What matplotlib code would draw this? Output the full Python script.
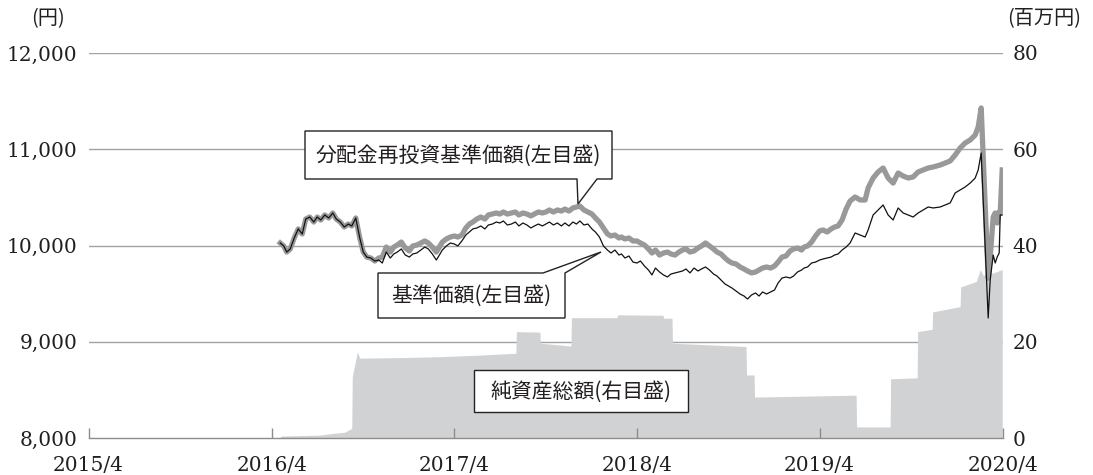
import matplotlib
matplotlib.use('Agg')
import matplotlib.pyplot as plt
import pandas as pd
from matplotlib.patches import Polygon

plt.rcParams['font.family'] = ['DejaVu Serif']

# ---------------- data ----------------
nav_dates = [
    '2016-04-18', '2016-04-25', '2016-05-01', '2016-05-08', '2016-05-16', '2016-05-24',
    '2016-06-01', '2016-06-08', '2016-06-16', '2016-06-24', '2016-07-01', '2016-07-08',
    '2016-07-16', '2016-07-24', '2016-08-01', '2016-08-08', '2016-08-16', '2016-08-24',
    '2016-09-01', '2016-09-08', '2016-09-16', '2016-09-24', '2016-10-01', '2016-10-08',
    '2016-10-16', '2016-10-24', '2016-11-01', '2016-11-08', '2016-11-16', '2016-11-24',
    '2016-12-01', '2016-12-08', '2016-12-16', '2016-12-24', '2017-01-01', '2017-01-08',
    '2017-01-16', '2017-01-24', '2017-02-01', '2017-02-08', '2017-02-16', '2017-02-24',
    '2017-03-01', '2017-03-08', '2017-03-16', '2017-03-24', '2017-04-01', '2017-04-08',
    '2017-04-16', '2017-04-24', '2017-05-01', '2017-05-08', '2017-05-16', '2017-05-24',
    '2017-06-01', '2017-06-08', '2017-06-16', '2017-06-24', '2017-07-01', '2017-07-08',
    '2017-07-16', '2017-07-24', '2017-08-01', '2017-08-08', '2017-08-16', '2017-08-24',
    '2017-09-01', '2017-09-08', '2017-09-16', '2017-09-24', '2017-10-01', '2017-10-08',
    '2017-10-16', '2017-10-24', '2017-11-01', '2017-11-08', '2017-11-16', '2017-11-24',
    '2017-12-01', '2017-12-08', '2017-12-16', '2017-12-24', '2018-01-01', '2018-01-08',
    '2018-01-16', '2018-01-24', '2018-02-01', '2018-02-08', '2018-02-16', '2018-02-24',
    '2018-03-01', '2018-03-08', '2018-03-16', '2018-03-24', '2018-04-01', '2018-04-08',
    '2018-04-16', '2018-04-24', '2018-05-01', '2018-05-08', '2018-05-16', '2018-05-24',
    '2018-06-01', '2018-06-08', '2018-06-16', '2018-06-24', '2018-07-01', '2018-07-08',
    '2018-07-16', '2018-07-24', '2018-08-01', '2018-08-08', '2018-08-16', '2018-08-24',
    '2018-09-01', '2018-09-08', '2018-09-16', '2018-09-24', '2018-10-01', '2018-10-08',
    '2018-10-16', '2018-10-24', '2018-11-01', '2018-11-08', '2018-11-16', '2018-11-24',
    '2018-12-01', '2018-12-08', '2018-12-16', '2018-12-24', '2019-01-01', '2019-01-08',
    '2019-01-16', '2019-01-24', '2019-02-01', '2019-02-08', '2019-02-16', '2019-02-24',
    '2019-03-01', '2019-03-08', '2019-03-16', '2019-03-24', '2019-04-01', '2019-04-08',
    '2019-04-16', '2019-04-24', '2019-05-01', '2019-05-08', '2019-05-16', '2019-05-24',
    '2019-06-01', '2019-06-11', '2019-06-21', '2019-07-01', '2019-07-07', '2019-07-17',
    '2019-07-27', '2019-08-06', '2019-08-16', '2019-08-26', '2019-09-05', '2019-09-15',
    '2019-09-25', '2019-10-05', '2019-10-15', '2019-10-25', '2019-11-04', '2019-11-14',
    '2019-11-28', '2019-12-08', '2019-12-18', '2019-12-28', '2020-01-07', '2020-01-17',
    '2020-01-27', '2020-02-06', '2020-02-12', '2020-02-18', '2020-03-03', '2020-03-07',
    '2020-03-13', '2020-03-17', '2020-03-21', '2020-03-25', '2020-03-27', '2020-03-31',
]

# 基準価額 (yen)
nav = [
    10026, 9995, 9932, 9964, 10078, 10172,
    10120, 10275, 10296, 10244, 10296, 10265,
    10317, 10286, 10338, 10275, 10244, 10192,
    10223, 10203, 10286, 10078, 9932, 9880,
    9870, 9839, 9849, 9818, 9932, 9870,
    9912, 9932, 9964, 9901, 9880, 9912,
    9922, 9953, 9984, 9964, 9912, 9849,
    9891, 9953, 9995, 10026, 10016, 9995,
    10047, 10109, 10140, 10172, 10182, 10203,
    10172, 10213, 10223, 10244, 10234, 10255,
    10213, 10223, 10244, 10203, 10234, 10213,
    10182, 10203, 10223, 10203, 10223, 10244,
    10213, 10234, 10203, 10234, 10203, 10244,
    10223, 10255, 10213, 10223, 10172, 10140,
    10088, 9995, 9953, 9922, 9953, 9901,
    9912, 9870, 9891, 9828, 9818, 9839,
    9787, 9745, 9694, 9766, 9725, 9694,
    9673, 9704, 9715, 9725, 9735, 9756,
    9715, 9766, 9735, 9756, 9777, 9745,
    9704, 9683, 9642, 9600, 9579, 9558,
    9527, 9496, 9475, 9444, 9486, 9507,
    9475, 9517, 9496, 9517, 9538, 9610,
    9662, 9673, 9662, 9683, 9725, 9745,
    9766, 9777, 9818, 9828, 9849, 9860,
    9870, 9880, 9901, 9912, 9953, 9984,
    10026, 10130, 10109, 10088, 10161, 10317,
    10369, 10421, 10317, 10265, 10390, 10338,
    10317, 10296, 10338, 10369, 10400, 10390,
    10400, 10421, 10442, 10546, 10577, 10608,
    10649, 10701, 10785, 10961, 9247, 9642,
    9901, 9818, 9881, 9922, 10317, 10317,
]

# 分配金再投資基準価額 (yen)
nav_reinv = [
    10026, 9995, 9932, 9964, 10078, 10172,
    10120, 10275, 10296, 10244, 10296, 10265,
    10317, 10286, 10338, 10275, 10244, 10192,
    10223, 10203, 10286, 10078, 9932, 9880,
    9870, 9839, 9870, 9880, 9984, 9932,
    9984, 10005, 10036, 9974, 9943, 9995,
    10005, 10026, 10047, 10026, 9984, 9932,
    9974, 10036, 10068, 10088, 10099, 10088,
    10109, 10182, 10223, 10244, 10275, 10296,
    10275, 10317, 10327, 10338, 10327, 10348,
    10327, 10338, 10348, 10317, 10338, 10327,
    10307, 10327, 10348, 10338, 10348, 10369,
    10348, 10369, 10358, 10379, 10358, 10390,
    10400, 10410, 10369, 10348, 10327, 10286,
    10244, 10182, 10120, 10099, 10109, 10078,
    10088, 10068, 10078, 10047, 10047, 10026,
    10005, 9964, 9922, 9953, 9901, 9922,
    9932, 9912, 9901, 9932, 9953, 9964,
    9932, 9943, 9974, 9995, 10026, 9995,
    9964, 9932, 9912, 9870, 9839, 9818,
    9808, 9777, 9756, 9735, 9715, 9725,
    9745, 9766, 9777, 9766, 9787, 9828,
    9880, 9891, 9943, 9964, 9974, 9953,
    9984, 9995, 10036, 10099, 10151, 10161,
    10140, 10172, 10192, 10203, 10265, 10379,
    10462, 10504, 10473, 10473, 10598, 10701,
    10764, 10805, 10701, 10649, 10753, 10722,
    10701, 10712, 10764, 10785, 10805, 10816,
    10836, 10857, 10878, 10940, 11013, 11065,
    11096, 11148, 11231, 11429, 9660, 9881,
    10296, 10338, 10234, 10348, 10338, 10785,
]

# 純資産総額 (million yen)
asset_dates = [
    '2016-04-19', '2016-05-27', '2016-07-06', '2016-08-05', '2016-08-25', '2016-09-08',
    '2016-09-09', '2016-09-19', '2016-09-24', '2016-12-13', '2017-03-03', '2017-05-16',
    '2017-08-02', '2017-08-03', '2017-09-19', '2017-09-20', '2017-11-20', '2017-11-21',
    '2018-02-20', '2018-02-21', '2018-05-23', '2018-05-24', '2018-06-10', '2018-06-11',
    '2018-11-05', '2018-11-06', '2018-11-21', '2018-11-22', '2019-06-13', '2019-06-14',
    '2019-08-20', '2019-08-21', '2019-10-13', '2019-10-14', '2019-11-12', '2019-11-13',
    '2020-01-07', '2020-01-08', '2020-02-08', '2020-02-16', '2020-02-22', '2020-03-13',
    '2020-03-31',
]
assets = [
    0.4, 0.5, 0.6, 1.0, 1.2, 2.0,
    12.7, 17.9, 16.6, 16.7, 16.9, 17.2,
    17.6, 22.1, 22.0, 19.7, 19.1, 25.0,
    25.0, 25.6, 25.5, 24.9, 24.9, 19.7,
    19.0, 13.1, 13.1, 8.5, 8.9, 2.3,
    2.3, 12.3, 12.5, 22.1, 22.6, 26.2,
    27.3, 31.4, 32.5, 35.0, 33.8, 34.3,
    35.0,
]

left_ticks = [8000, 9000, 10000, 11000, 12000]
left_labels = ['8,000', '9,000', '10,000', '11,000', '12,000']
right_ticks = [0, 20, 40, 60, 80]
right_labels = ['0', '20', '40', '60', '80']
x_ticks = ['2015-04-01', '2016-04-01', '2017-04-01', '2018-04-01', '2019-04-01', '2020-04-01']
x_labels = ['2015/4', '2016/4', '2017/4', '2018/4', '2019/4', '2020/4']

label_nav_reinv = '分配金再投資基準価額(左目盛)'
label_nav = '基準価額(左目盛)'
label_assets = '純資産総額(右目盛)'
unit_left = '(円)'
unit_right = '(百万円)'

# ---------------- figure ----------------
W, H = 1093, 475
fig = plt.figure(figsize=(W / 100, H / 100), dpi=100)

def fx(x):
    return x / W

def fy(y):
    return 1 - y / H

ax_a = fig.add_axes([fx(88.6), fy(438), 914.1 / W, 385 / H])
ax_l = ax_a.twinx()

TXT = '#231f20'
GRID = '#a3a3a3'
AREA = '#d1d2d4'
GRAYLINE = '#999999'

nd = pd.to_datetime(nav_dates)
ad = pd.to_datetime(asset_dates)

# grid lines (below area)
for v in right_ticks[1:]:
    ax_a.axhline(v, color=GRID, lw=1.0, zorder=0.3)

ax_a.fill_between(ad, assets, 0, color=AREA, lw=0, zorder=1)

ax_l.plot(nd, nav_reinv, color=GRAYLINE, lw=3.8, solid_joinstyle='round', zorder=2)
ax_l.plot(nd, nav, color='#111111', lw=0.9, zorder=3)

ax_a.set_xlim(pd.Timestamp('2015-04-01'), pd.Timestamp('2020-04-01'))
ax_a.set_ylim(0, 80)
ax_l.set_ylim(8000, 12000)

for a in (ax_a, ax_l):
    for s in ('top', 'left', 'right'):
        a.spines[s].set_visible(False)
ax_l.spines['bottom'].set_visible(False)
ax_a.spines['bottom'].set_color('#8c8c8c')
ax_a.spines['bottom'].set_linewidth(1.0)

ax_a.set_xticks(pd.to_datetime(x_ticks))
ax_a.set_xticklabels(x_labels)
ax_a.tick_params(axis='x', direction='in', length=7, width=1.0, color='#8c8c8c',
                 labelsize=14.5, labelcolor=TXT, pad=13)

ax_a.yaxis.tick_right()
ax_a.set_yticks(right_ticks)
ax_a.set_yticklabels(right_labels)
ax_a.tick_params(axis='y', length=0, labelsize=14.5, labelcolor=TXT, pad=7)

ax_l.yaxis.tick_left()
ax_l.set_yticks(left_ticks)
ax_l.set_yticklabels(left_labels)
ax_l.tick_params(axis='y', length=0, labelsize=14.5, labelcolor=TXT, pad=8)

JP = ['Noto Sans CJK JP', 'DejaVu Sans']

fig.text(fx(48), fy(19), unit_left, ha='center', va='center', fontsize=14.5,
         family=JP, color=TXT)
fig.text(fx(1044), fy(19), unit_right, ha='center', va='center', fontsize=14.5,
         family=JP, color=TXT)

# callout boxes
def add_poly(pts):
    p = Polygon([(fx(x), fy(y)) for x, y in pts], closed=True,
                transform=fig.transFigure, facecolor='white', edgecolor='#222222',
                lw=1.0, zorder=10)
    fig.add_artist(p)

add_poly([(305, 131), (612, 131), (612, 179), (597, 179), (578, 204), (577, 179), (305, 179)])
fig.text(fx(458.5), fy(156), label_nav_reinv, ha='center', va='center', fontsize=15,
         family=JP, color=TXT, zorder=11)

add_poly([(378, 273), (543, 273), (601, 252), (565, 273), (565, 318), (378, 318)])
fig.text(fx(471.5), fy(296), label_nav, ha='center', va='center', fontsize=15,
         family=JP, color=TXT, zorder=11)

add_poly([(474, 370), (688, 370), (688, 412), (474, 412)])
fig.text(fx(581), fy(391.5), label_assets, ha='center', va='center', fontsize=15,
         family=JP, color=TXT, zorder=11)

fig.savefig('out.png', dpi=100)
